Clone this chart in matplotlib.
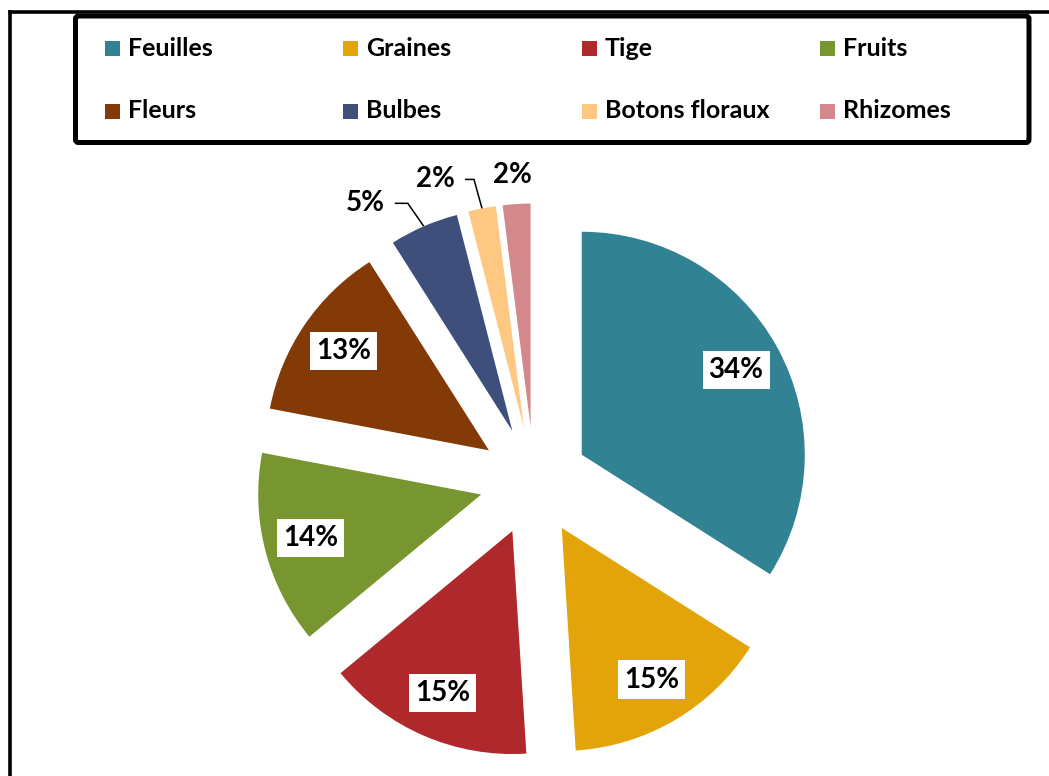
import matplotlib
matplotlib.use("Agg")
import matplotlib.pyplot as plt
from matplotlib.patches import Rectangle, FancyBboxPatch
import numpy as np

# Plant parts used (share of citations, %)
categories = ["Feuilles", "Graines", "Tige", "Fruits",
              "Fleurs", "Bulbes", "Botons floraux", "Rhizomes"]
shares = [34, 15, 15, 14, 13, 5, 2, 2]
colors = ["#318293", "#E3A409", "#AF282B", "#77962F",
          "#843A06", "#3E4F7C", "#FEC882", "#D3898B"]

plt.rcParams["font.family"] = ["Lato", "DejaVu Sans"]
plt.rcParams["font.weight"] = "bold"

W, H = 1049, 776
fig = plt.figure(figsize=(W / 100, H / 100), dpi=100)
ax = fig.add_axes([0, 0, 1, 1])


def px(x, y):
    """Convert top-left based pixel coordinates to axes data coordinates."""
    return x, H - y


# ---- pie ------------------------------------------------------------------
R = 223
cx, cy = px(534, 481)
gap = 54.5
wedges, _ = ax.pie(shares, colors=colors, startangle=90, counterclock=False,
                   radius=R, center=(cx, cy), explode=[gap] * len(shares),
                   wedgeprops=dict(linewidth=0))
ax.set_xlim(0, W)
ax.set_ylim(0, H)
ax.axis("off")

label_fs = 20
# inner labels in white boxes, outer labels with leader lines for thin slices
outer = {
    5: dict(elbow=(-16, 23), run=-13, text_dx=-10),
    6: dict(elbow=(-8, 29), run=-9, text_dx=-10),
    7: dict(elbow=None, text_off=(-4, 29)),
}
for i, (w, v) in enumerate(zip(wedges, shares)):
    mid = np.deg2rad((w.theta1 + w.theta2) / 2)
    ox, oy = w.center
    txt = f"{v}%"
    if i not in outer:
        tx = ox + 0.79 * w.r * np.cos(mid)
        ty = oy + 0.79 * w.r * np.sin(mid)
        ax.text(tx, ty, txt, ha="center", va="center", fontsize=label_fs,
                fontweight="bold", color="black",
                bbox=dict(boxstyle="square,pad=0.22", fc="white", ec="none"))
    else:
        ax_x = ox + w.r * np.cos(mid)
        ax_y = oy + w.r * np.sin(mid)
        o = outer[i]
        if o["elbow"] is None:
            dx, dy = o["text_off"]
            ax.text(ax_x + dx, ax_y + dy, txt, ha="center", va="center",
                    fontsize=label_fs, fontweight="bold")
        else:
            ex, ey = ax_x + o["elbow"][0], ax_y + o["elbow"][1]
            endx = ex + o["run"]
            ax.plot([ax_x, ex, endx], [ax_y, ey, ey], color="black", lw=1.1,
                    solid_capstyle="butt", solid_joinstyle="miter")
            ax.text(endx + o["text_dx"], ey, txt, ha="right", va="center",
                    fontsize=label_fs, fontweight="bold")

# ---- legend ---------------------------------------------------------------
lx0, ly0 = px(75.5, 142.5)
lx1, ly1 = px(1029, 16)
ax.add_patch(FancyBboxPatch((lx0, ly0), lx1 - lx0, ly1 - ly0,
                            boxstyle="round,pad=0,rounding_size=3",
                            fc="white", ec="black", lw=3.6, zorder=3))
col_step = 238.3
rows_base = [55.5, 118.5]
for k, (name, c) in enumerate(zip(categories, colors)):
    row, col = divmod(k, 4)
    mx = 105 + col * col_step
    base = rows_base[row]
    sx, sy = px(mx, base + 0.5)
    ax.add_patch(Rectangle((sx, sy), 15, 15, fc=c, ec="none", zorder=4))
    tx, ty = px(mx + 23, base)
    ax.text(tx, ty, name, ha="left", va="baseline", fontsize=18,
            fontweight="bold", zorder=4)

# ---- outer frame (chart area border) ---------------------------------------
ax.plot([10, 10], [H - 12, -10], color="black", lw=2.6, clip_on=False,
        solid_capstyle="projecting")
ax.plot([10, W + 10], [H - 12, H - 12], color="black", lw=2.6, clip_on=False,
        solid_capstyle="projecting")

fig.savefig("out.png", dpi=100, facecolor="white")
